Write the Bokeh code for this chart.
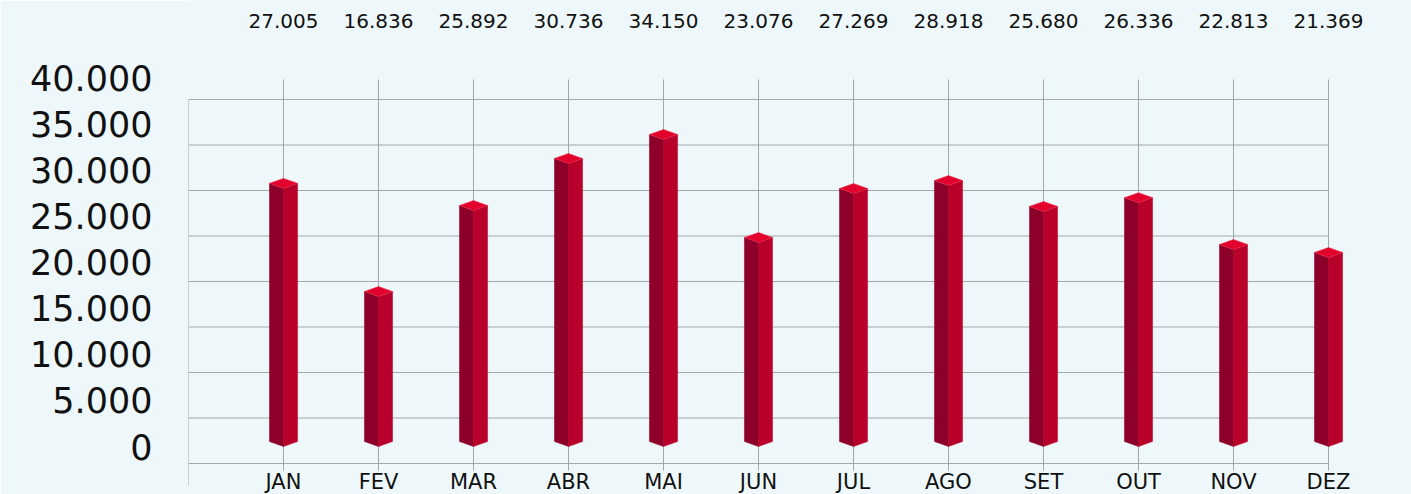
from bokeh.plotting import figure
from bokeh.models import Range1d, FixedTicker
from bokeh.core.properties import value
from bokeh.embed import file_html
from bokeh.resources import INLINE

# ---- data ----
months = ["JAN", "FEV", "MAR", "ABR", "MAI", "JUN", "JUL", "AGO", "SET", "OUT", "NOV", "DEZ"]
top_labels = ["27.005", "16.836", "25.892", "30.736", "34.150", "23.076",
              "27.269", "28.918", "25.680", "26.336", "22.813", "21.369"]
# bar heights as drawn in the picture
bar_values = [28000, 16270, 25600, 30700, 33300, 22130, 27440, 28300, 25500, 26450, 21370, 20500]
y_ticks = [0, 5000, 10000, 15000, 20000, 25000, 30000, 35000, 40000]
y_tick_labels = ["0", "5.000", "10.000", "15.000", "20.000", "25.000", "30.000", "35.000", "40.000"]

# ---- style / layout constants ----
FONT = "DejaVu Sans"
BG = "#eef8fa"
GRID_COLOR = "#a3a7ab"
LEFT_FACE = "#8c0029"
RIGHT_FACE = "#b8002b"
TOP_FACE = "#e2002c"
HALF = 0.148          # half bar width in category units
LIFT = 540            # 3D offset in value units
TOP_ROW = 46200       # y of the value row above the chart
BOTTOM_ROW = -3800    # y of month labels
VLINE_LOW, VLINE_HIGH = -770, 42200   # in grid units
BORDER_LOW = -2420

W, H = 1411, 494
LEFT = 188
p = figure(width=W, height=H, output_backend="svg", toolbar_location=None,
           x_range=Range1d(-1, -1 + (W - LEFT) / 95.0),
           y_range=Range1d(-5206, 48373),
           x_axis_location=None, y_axis_location="left",
           min_border_left=LEFT, min_border_right=0, min_border_top=0, min_border_bottom=0,
           background_fill_color=BG, border_fill_color=BG)
p.outline_line_color = None
p.grid.visible = False
p.extra_y_ranges = {"grid": Range1d(-3407, 50879)}

ax = p.yaxis[0]
ax.ticker = FixedTicker(ticks=y_ticks)
ax.major_label_overrides = {t: s for t, s in zip(y_ticks, y_tick_labels)}
ax.major_label_text_font = FONT
ax.major_label_text_font_size = "35px"
ax.major_label_text_color = "#111111"
ax.axis_line_color = None
ax.major_tick_line_color = None
ax.minor_tick_line_color = None
ax.major_label_standoff = 30

n = len(months)
xs_idx = list(range(n))

# horizontal back-wall grid lines
p.segment(x0=[-1] * len(y_ticks), x1=[n - 1] * len(y_ticks), y0=y_ticks, y1=y_ticks,
          y_range_name="grid", line_color=GRID_COLOR, line_width=1)
# vertical category lines
p.segment(x0=xs_idx, x1=xs_idx, y0=[VLINE_LOW] * n, y1=[VLINE_HIGH] * n,
          y_range_name="grid", line_color=GRID_COLOR, line_width=1)
# left border
p.segment(x0=[-1], x1=[-1], y0=[BORDER_LOW], y1=[y_ticks[-1]],
          y_range_name="grid", line_color=GRID_COLOR, line_width=1)

# 3D bars
lx, ly, rx, ry, tx, ty = [], [], [], [], [], []
for i, v in enumerate(bar_values):
    lx.append([i - HALF, i, i, i - HALF]); ly.append([LIFT, 0, v, v + LIFT])
    rx.append([i, i + HALF, i + HALF, i]); ry.append([0, LIFT, v + LIFT, v])
    tx.append([i - HALF, i, i + HALF, i]); ty.append([v + LIFT, v + 2 * LIFT, v + LIFT, v])
p.patches(lx, ly, fill_color=LEFT_FACE, line_color=LEFT_FACE, line_width=0.5)
p.patches(rx, ry, fill_color=RIGHT_FACE, line_color=RIGHT_FACE, line_width=0.5)
p.patches(tx, ty, fill_color=TOP_FACE, line_color="#e8304a", line_width=0.6)

# value row on top
p.text(x=xs_idx, y=[TOP_ROW] * n, text=top_labels, text_font=value(FONT),
       text_font_size="20px", text_align="center", text_baseline="middle", text_color="#111111")
# month labels
p.text(x=xs_idx, y=[BOTTOM_ROW] * n, text=months, text_font=value(FONT),
       text_font_size="21px", text_align="center", text_baseline="middle", text_color="#111111")

open("out.html", "w").write(file_html(p, INLINE))
